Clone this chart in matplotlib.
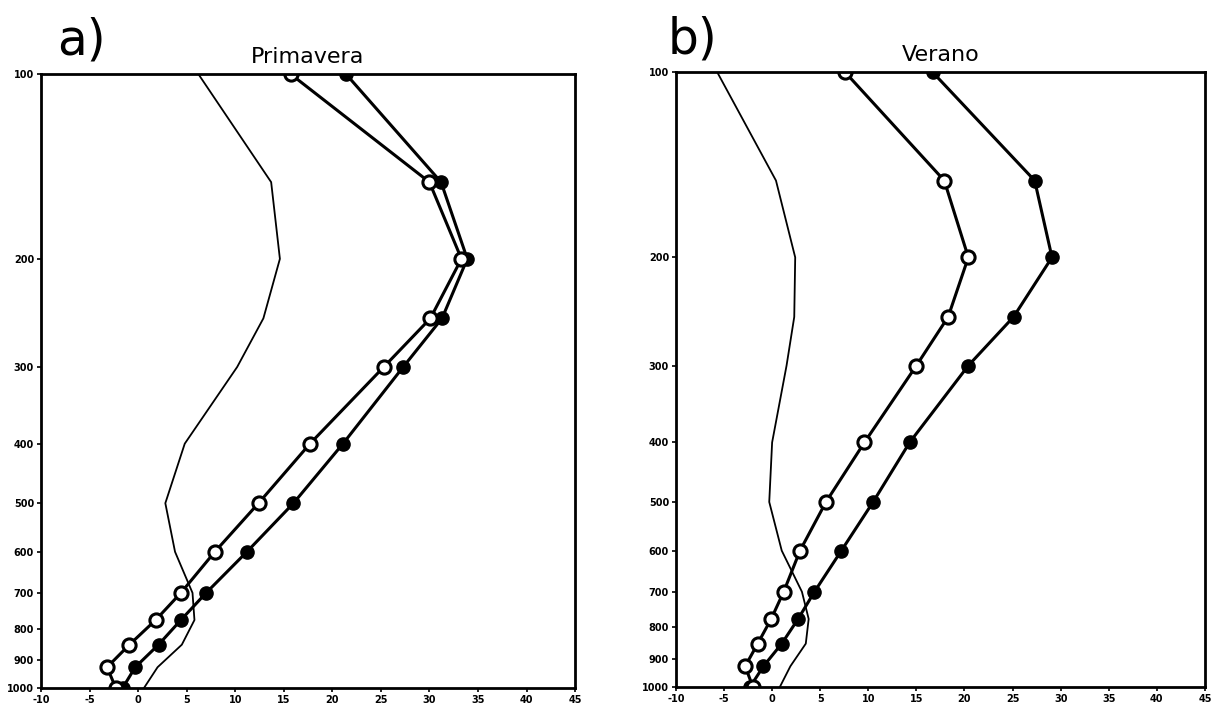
import matplotlib
matplotlib.use("Agg")
import matplotlib.pyplot as plt
from matplotlib.ticker import FixedLocator, NullLocator, FixedFormatter

# pressure levels (hPa)
levels = [100, 150, 200, 250, 300, 400, 500, 600, 700, 775, 850, 925, 1000]

# a) Primavera
spring_thin = [6.2, 13.7, 14.6, 12.9, 10.2, 4.8, 2.8, 3.8, 5.6, 5.8, 4.5, 2.0, 0.6]
spring_open = [15.7, 30.0, 33.3, 30.1, 25.3, 17.7, 12.4, 7.9, 4.4, 1.8, -0.9, -3.2, -2.3]
spring_full = [21.4, 31.2, 33.9, 31.3, 27.3, 21.1, 16.0, 11.2, 7.0, 4.4, 2.1, -0.3, -1.6]

# b) Verano
summer_thin = [-5.7, 0.4, 2.4, 2.3, 1.5, 0.0, -0.3, 1.0, 3.1, 3.8, 3.5, 1.9, 0.8]
summer_open = [7.6, 17.9, 20.4, 18.3, 15.0, 9.6, 5.6, 2.9, 1.2, -0.1, -1.5, -2.8, -2.0]
summer_full = [16.7, 27.3, 29.1, 25.1, 20.4, 14.3, 10.5, 7.2, 4.4, 2.7, 1.0, -0.9, -2.3]

xticks = list(range(-10, 50, 5))
yticks = [100, 200, 300, 400, 500, 600, 700, 800, 900, 1000]

fig = plt.figure(figsize=(12.29, 7.09), dpi=100)
ax1 = fig.add_axes([0.0334, 0.0296, 0.4345, 0.866])
ax2 = fig.add_axes([0.550, 0.031, 0.4304, 0.867])

panels = [
    (ax1, spring_thin, spring_open, spring_full, "Primavera", "a)", 0.03),
    (ax2, summer_thin, summer_open, summer_full, "Verano", "b)", -0.015),
]

for ax, thin, op, full, title, tag, tx in panels:
    ax.plot(thin, levels, color="black", lw=1.3)
    ax.plot(full, levels, color="black", lw=2.2, marker="o", ms=9.5,
            mfc="black", mec="black")
    ax.plot(op, levels, color="black", lw=2.2, marker="o", ms=9.5,
            mfc="white", mec="black", mew=2.2)
    ax.set_yscale("log")
    ax.set_ylim(1000, 100)
    ax.set_xlim(-10, 45)
    ax.yaxis.set_major_locator(FixedLocator(yticks))
    ax.yaxis.set_major_formatter(FixedFormatter([str(t) for t in yticks]))
    ax.yaxis.set_minor_locator(NullLocator())
    ax.set_xticks(xticks)
    ax.set_xticklabels([str(t) for t in xticks])
    ax.tick_params(labelsize=7, length=3, width=1.2, pad=2)
    for lab in ax.get_xticklabels() + ax.get_yticklabels():
        lab.set_fontweight("bold")
    for sp in ax.spines.values():
        sp.set_linewidth(2)
    ax.set_title(title, fontsize=16, pad=8)
    ax.text(tx, 1.015, tag, transform=ax.transAxes, fontsize=35,
            ha="left", va="bottom")

fig.savefig("out.png", dpi=100)
